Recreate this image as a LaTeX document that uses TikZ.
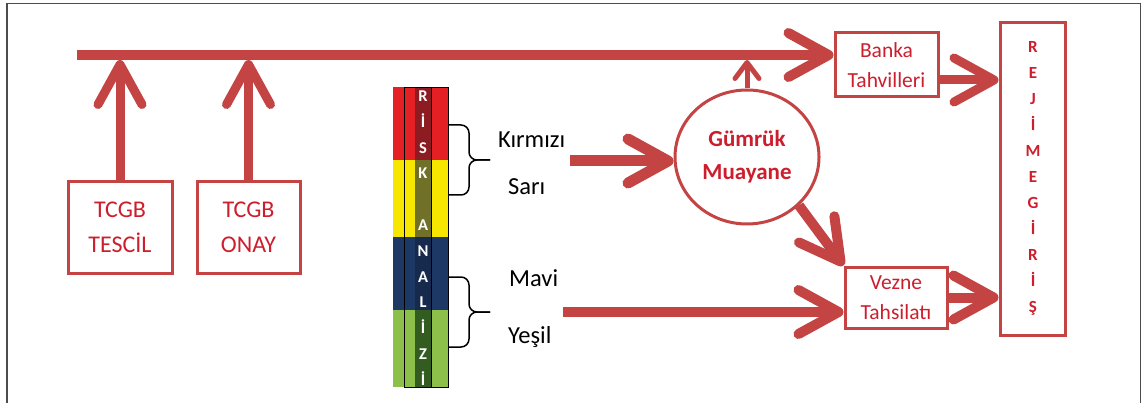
\documentclass[tikz,border=0pt]{standalone}
\usepackage{fontspec}
\setmainfont{Carlito}
\usetikzlibrary{arrows.meta,shapes.geometric,calc}
\definecolor{arrc}{RGB}{196,68,68}
\definecolor{txtc}{RGB}{205,30,45}
\definecolor{rkred}{RGB}{228,32,36}
\definecolor{rkredd}{RGB}{140,28,34}
\definecolor{rkyel}{RGB}{246,230,0}
\definecolor{rkyeld}{RGB}{112,112,40}
\definecolor{rknavy}{RGB}{30,56,102}
\definecolor{rknavyd}{RGB}{22,42,78}
\definecolor{rkgrn}{RGB}{140,192,74}
\definecolor{rkgrnd}{RGB}{50,92,32}
\tikzset{
  boxn/.style={draw=arrc, line width=3pt, fill=white, text=txtc, align=center, inner sep=0pt},
  arr/.style={draw=arrc, line width=10pt, -{Straight Barb[length=40pt,width=44pt,round]}},
  smallarr/.style={draw=arrc, line width=5pt, -{Straight Barb[length=16pt,width=24pt,round]}},
  lbl/.style={font=\fontsize{24.5}{28}\selectfont, text=black, anchor=west, inner sep=0pt},
  rl/.style={text=white, font=\bfseries\fontsize{16.5}{17}\selectfont, anchor=base, inner sep=0pt},
  rj/.style={text=txtc, font=\bfseries\fontsize{17}{18}\selectfont, anchor=base, inner sep=0pt},
  bracel/.style={draw=black, line width=1.5pt},
}
\begin{document}
\begin{tikzpicture}[x=1pt,y=-1pt]
\useasboundingbox (0,0) rectangle (1142,403);
\draw[gray!60!black, line width=1.5pt] (7,403) -- (7,3.5) -- (1140.5,3.5) -- (1140.5,403);

% boxes
\node[boxn, minimum width=104pt, minimum height=91pt, font=\fontsize{24}{35}\selectfont] (tescil) at (120,227.5) {TCGB\\TESCİL};
\node[boxn, minimum width=103pt, minimum height=91pt, font=\fontsize{24}{35}\selectfont] (onay) at (248.5,227.5) {TCGB\\ONAY};
\node[boxn, minimum width=103pt, minimum height=64pt, font=\fontsize{21.5}{30}\selectfont] (banka) at (886.5,65) {Banka\\Tahvilleri};
\node[boxn, minimum width=102pt, minimum height=61pt, font=\fontsize{21.5}{30}\selectfont] (vezne) at (896,297.5) {Vezne\\Tahsilatı};
\node[boxn, minimum width=65pt, minimum height=312pt] (rejim) at (1032.5,179) {};
\foreach \l [count=\i from 0] in {R,E,J,İ,M,E,G,İ,R,İ,Ş}
  \node[rj] (rj\i) at (1033,52.5+26*\i) {\l};
\node[ellipse, draw=arrc, line width=3pt, fill=white, minimum width=144pt, minimum height=134pt, inner sep=0pt,
      text=txtc, font=\bfseries\fontsize{23}{33}\selectfont, align=center] (gm) at (747,157) {Gümrük\\Muayane};

% risk bar
\fill[rkred] (393,87) rectangle (448,160);
\fill[rkyel] (393,160) rectangle (448,237);
\fill[rknavy] (393,237) rectangle (448,310);
\fill[rkgrn] (393,310) rectangle (448,387);
\fill[rkredd] (415,87) rectangle (431,160);
\fill[rkyeld] (415,160) rectangle (431,237);
\fill[rknavyd] (415,237) rectangle (431,310);
\fill[rkgrnd] (415,310) rectangle (431,387);
\draw[black, line width=0.8pt] (404,87) rectangle (448,387);
\draw[black, line width=0.8pt] (431,87) -- (431,387);
\foreach \l [count=\i from 0] in {R,İ,S,K,{},A,N,A,L,İ,Z,İ}
  \node[rl] (rk\i) at (423,101.5+25.8*\i) {\l};

% braces
\draw[bracel] (448,125) -- (461,125) to[out=0,in=90] (469,133) -- (469,152) to[out=-90,in=180] (477,160) -- (490,160);
\draw[bracel] (490,160) -- (477,160) to[out=180,in=90] (469,168) -- (469,187) to[out=-90,in=0] (461,195) -- (448,195);
\draw[bracel] (448,277) -- (461,277) to[out=0,in=90] (469,285) -- (469,304) to[out=-90,in=180] (477,312) -- (490,312);
\draw[bracel] (490,312) -- (477,312) to[out=180,in=90] (469,320) -- (469,339) to[out=-90,in=0] (461,347) -- (448,347);

% labels
\node[lbl] (kir) at (498,140) {Kırmızı};
\node[lbl] (sar) at (508,187) {Sarı};
\node[lbl] (mav) at (509,278) {Mavi};
\node[lbl] (yes) at (508,337) {Yeşil};

% arrows
\coordinate (mstart) at (77,55);
\coordinate (mlow) at (0,60);
\draw[arr] (mstart) -- (mstart -| banka.west);
\draw[arr, line width=9pt] (tescil.north) -- (tescil.north |- mlow);
\draw[arr, line width=9pt] (onay.north) -- (onay.north |- mlow);
\draw[smallarr] (gm.north) -- (gm.north |- mlow);
\coordinate (kstart) at (570,161);
\draw[arr, line width=11pt] (kstart) -- (kstart -| gm.west);
\draw[arr] (gm.south east) -- (vezne.north west);
\coordinate (ystart) at (563,312);
\draw[arr] (ystart) -- (ystart -| vezne.west);
\coordinate (bk) at ($(banka.east)+(0,15)$);
\draw[arr, line width=9pt] (bk) -- (bk -| rejim.west);
\draw[arr] (vezne.east) -- (vezne.east -| rejim.west);
\end{tikzpicture}
\end{document}
